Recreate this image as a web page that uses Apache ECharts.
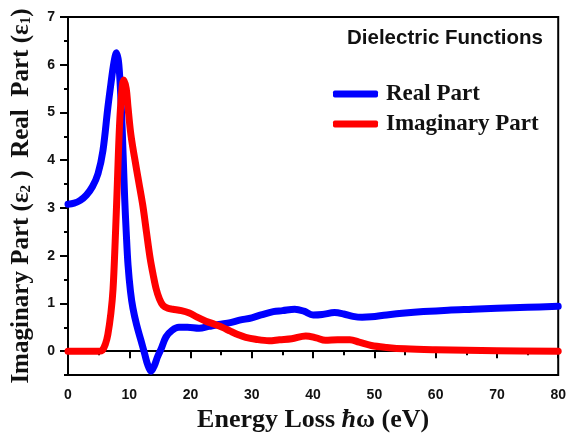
<!DOCTYPE html>
<html>
<head>
<meta charset="utf-8">
<script src="https://cdn.jsdelivr.net/npm/echarts@6/dist/echarts.min.js"></script>
<style>
  html, body { margin: 0; padding: 0; background: #fff; }
  #chart { width: 569px; height: 438px; }
</style>
</head>
<body>
<div id="chart"></div>
<script>
// Real part of the dielectric function, eps1, vs energy loss (eV)
const realEnergy = [0, 1, 2, 3, 4, 4.9, 5.7, 6.5, 7.0, 7.5, 7.9, 8.3, 8.7, 9.0, 9.25, 9.5, 9.8, 10.2, 10.6, 11.2, 11.9, 12.5, 13.0, 13.55, 14.1, 14.6, 15.2, 16, 17, 18.1, 19.5, 21.4, 23, 24.6, 26.5, 28, 30, 31.5, 33.5, 35, 37, 38.5, 40, 41.5, 43.5, 45, 46.5, 48, 49.5, 52, 55, 58, 62, 66, 70, 75, 80];
const realValues = [3.08, 3.1, 3.16, 3.27, 3.45, 3.72, 4.2, 5.1, 5.6, 6.05, 6.25, 6.0, 5.1, 4.1, 3.2, 2.5, 1.8, 1.25, 0.9, 0.55, 0.23, -0.05, -0.28, -0.42, -0.3, -0.12, 0.05, 0.3, 0.44, 0.5, 0.5, 0.48, 0.52, 0.56, 0.6, 0.65, 0.7, 0.76, 0.83, 0.85, 0.88, 0.84, 0.76, 0.77, 0.81, 0.78, 0.73, 0.71, 0.72, 0.76, 0.8, 0.83, 0.86, 0.88, 0.9, 0.92, 0.94];

// Imaginary part, eps2
const imagEnergy = [0, 5.0, 5.6, 6.1, 6.5, 7.0, 7.35, 7.7, 8.05, 8.4, 8.75, 9.1, 9.5, 9.8, 10.2, 10.6, 11.0, 11.4, 12.2, 12.8, 13.4, 13.9, 14.4, 14.9, 15.5, 16.3, 17.1, 18.5, 19.8, 21, 22.5, 24, 25.2, 26.5, 27.9, 29, 30.6, 32.8, 34.5, 36.5, 38.8, 40.5, 42, 44, 46, 47.5, 49.5, 52, 55, 60, 65, 70, 80];
const imagValues = [0, 0, 0.02, 0.15, 0.35, 0.8, 1.3, 2.3, 3.5, 4.7, 5.4, 5.68, 5.5, 5.1, 4.6, 4.25, 3.95, 3.65, 3.06, 2.5, 1.95, 1.6, 1.3, 1.1, 0.96, 0.9, 0.88, 0.85, 0.8, 0.72, 0.63, 0.56, 0.5, 0.42, 0.34, 0.29, 0.25, 0.22, 0.24, 0.26, 0.32, 0.28, 0.23, 0.24, 0.24, 0.19, 0.12, 0.08, 0.05, 0.03, 0.02, 0.01, 0.0];

// Axis ticks
const yMajorTicks = [0, 1, 2, 3, 4, 5, 6, 7];
const yMinorTicks = [-0.5, 0.5, 1.5, 2.5, 3.5, 4.5, 5.5, 6.5];
const seriesNames = ['Real Part', 'Imaginary Part'];
const legendTitle = 'Dielectric Functions';

const zip = (xs, ys) => xs.map((x, i) => [x, ys[i]]);

const sans = '"Liberation Sans", Arial, sans-serif';
const serif = '"Liberation Serif", "Times New Roman", serif';

const chart = echarts.init(document.getElementById('chart'), null, { renderer: 'canvas' });

const yBase = {
  type: 'value',
  min: -0.5,
  max: 7,
  position: 'left',
  splitLine: { show: false }
};

chart.setOption({
  animation: false,
  backgroundColor: '#ffffff',
  title: {
    text: legendTitle,
    left: 347,
    top: 28,
    padding: 0,
    textStyle: { fontFamily: sans, fontWeight: 'bold', fontSize: 20.5, color: '#111' }
  },
  legend: {
    data: seriesNames,
    orient: 'vertical',
    left: 333,
    top: 82,
    padding: 0,
    icon: 'roundRect',
    itemWidth: 45,
    itemHeight: 7,
    itemGap: 6,
    textStyle: {
      fontFamily: serif, fontWeight: 'bold', fontSize: 23, color: '#111',
      lineHeight: 24, padding: [0, 0, 0, 3]
    }
  },
  grid: {
    left: 68, right: 7, top: 17, bottom: 60,
    show: true, borderColor: '#000', borderWidth: 2, backgroundColor: 'transparent'
  },
  xAxis: {
    type: 'value',
    min: 0,
    max: 80,
    interval: 10,
    name: 'Energy Loss {i|ħ}ω (eV)',
    nameLocation: 'middle',
    nameGap: 31,
    nameTextStyle: {
      fontFamily: serif, fontWeight: 'bold', fontSize: 26, color: '#111',
      rich: { i: { fontFamily: serif, fontWeight: 'bold', fontStyle: 'italic', fontSize: 26, color: '#111' } }
    },
    axisLine: { lineStyle: { color: '#000', width: 2 } },
    axisTick: { length: 7, lineStyle: { color: '#000', width: 2 } },
    minorTick: { show: true, splitNumber: 2, length: 4, lineStyle: { color: '#000', width: 2 } },
    axisLabel: { fontFamily: sans, fontWeight: 'bold', fontSize: 14, color: '#111', margin: 13 },
    splitLine: { show: false }
  },
  yAxis: [
    Object.assign({}, yBase, {
      name: 'Imaginary Part (ε{sub|2} )  Real  Part (ε{sub|1})',
      nameLocation: 'middle',
      nameGap: 34,
      nameTextStyle: {
        fontFamily: serif, fontWeight: 'bold', fontSize: 25, color: '#111',
        rich: {
          sub: { fontFamily: serif, fontWeight: 'bold', fontSize: 15, color: '#111', verticalAlign: 'bottom' }
        }
      },
      axisLine: { show: true, lineStyle: { color: '#000', width: 2 } },
      axisTick: { show: true, length: 8, customValues: yMajorTicks, lineStyle: { color: '#000', width: 2 } },
      axisLabel: { customValues: yMajorTicks, fontFamily: sans, fontWeight: 'bold', fontSize: 14, color: '#111', margin: 13 }
    }),
    Object.assign({}, yBase, {
      axisLine: { show: false },
      axisTick: { show: true, length: 4, customValues: yMinorTicks, lineStyle: { color: '#000', width: 2 } },
      axisLabel: { show: false }
    })
  ],
  series: [
    {
      name: seriesNames[0],
      type: 'line',
      yAxisIndex: 0,
      data: zip(realEnergy, realValues),
      smooth: 0.35,
      showSymbol: false,
      color: '#0000ff',
      lineStyle: { color: '#0000ff', width: 7, cap: 'round', join: 'round' }
    },
    {
      name: seriesNames[1],
      type: 'line',
      yAxisIndex: 0,
      data: zip(imagEnergy, imagValues),
      smooth: 0.35,
      showSymbol: false,
      color: '#ff0000',
      lineStyle: { color: '#ff0000', width: 7, cap: 'round', join: 'round' }
    }
  ]
});
</script>
</body>
</html>
